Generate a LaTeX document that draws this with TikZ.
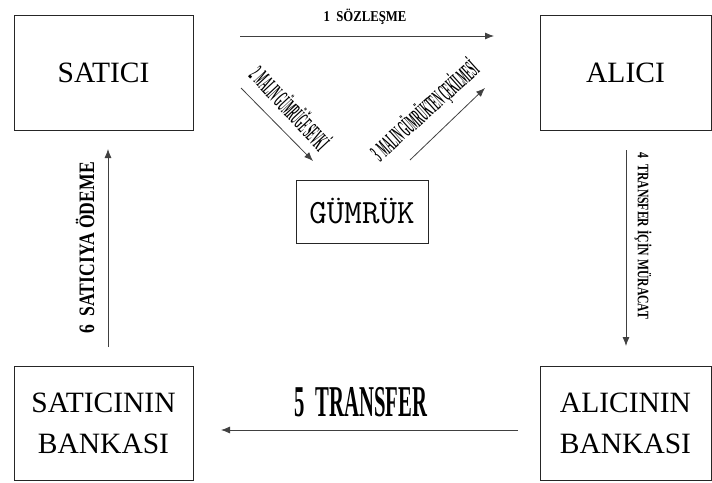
\documentclass[tikz,border=0pt]{standalone}
\usepackage{graphicx}
\usepackage{fontspec}
\setmainfont{Liberation Serif}
\usetikzlibrary{arrows.meta}
% horizontally condensed text
\newcommand\narrowtext[2]{\scalebox{#1}[1]{#2}}

\begin{document}
\begin{tikzpicture}[x=1pt,y=-1pt,
  party/.style={draw=black!85, line width=0.9pt, inner sep=0pt, align=center,
    font=\fontsize{29.5}{41}\selectfont},
  flow/.style={draw=black!75, line width=0.8pt, -{Latex[length=9pt,width=7pt]}},
  lbl/.style={inner sep=0pt, text=black}]
\useasboundingbox (0,0) rectangle (712,482);

% parties
\node[party, minimum width=179pt, minimum height=115pt] (satici) at (103.5,72.5) {SATICI};
\node[party, minimum width=171pt, minimum height=115pt] (alici) at (625.5,72.5) {ALICI};
\node[party, minimum width=132pt, minimum height=63pt, font=\ttfamily\fontsize{34}{34}\selectfont] (gumruk) at (362,211.5) {GÜMRÜK};
\node[party, minimum width=179pt, minimum height=114pt] (sbank) at (103.5,423) {SATICININ\\BANKASI};
\node[party, minimum width=171pt, minimum height=114pt] (abank) at (625.5,423) {ALICININ\\BANKASI};

% arrow end points
\coordinate (a1s) at (240,36);  \coordinate (a1e) at (494,36);
\coordinate (a2s) at (241,88);  \coordinate (a2e) at (313,161);
\coordinate (a3s) at (410,160); \coordinate (a3e) at (485,88);
\coordinate (a4s) at (626,150); \coordinate (a4e) at (626,346);
\coordinate (a5s) at (518,430); \coordinate (a5e) at (221,430);
\coordinate (a6s) at (108,347); \coordinate (a6e) at (108,149);

\draw[flow] (a1s) -- (a1e);
\draw[flow] (a2s) -- (a2e);
\draw[flow] (a3s) -- (a3e);
\draw[flow] (a4s) -- (a4e);
\draw[flow] (a5s) -- (a5e);
\draw[flow] (a6s) -- (a6e);

% step labels
\node[lbl, font=\bfseries\fontsize{15}{15}\selectfont] (l1) at (365,17)
  {\narrowtext{0.85}{1\ \ SÖZLEŞME}};
\node[lbl, rotate=-47, font=\bfseries\fontsize{25}{25}\selectfont] (l2) at (291,107)
  {\narrowtext{0.31}{2\ \ MALIN GÜMRÜĞE SEVKİ}};
\node[lbl, rotate=42, font=\bfseries\fontsize{25}{25}\selectfont] (l3) at (425,111)
  {\narrowtext{0.31}{3\ \ MALIN GÜMRÜKTEN ÇEKİLMESİ}};
\node[lbl, rotate=-90, font=\bfseries\fontsize{16}{16}\selectfont] (l4) at (643,236)
  {\narrowtext{0.73}{4\ \ TRANSFER İÇİN MÜRACAT}};
\node[lbl, font=\bfseries\fontsize{44}{44}\selectfont] (l5) at (361,402)
  {\narrowtext{0.47}{5\ \ TRANSFER}};
\node[lbl, rotate=90, font=\bfseries\fontsize{22}{22}\selectfont] (l6) at (85,248)
  {\narrowtext{0.8}{6\ \ SATICIYA ÖDEME}};
\end{tikzpicture}
\end{document}
